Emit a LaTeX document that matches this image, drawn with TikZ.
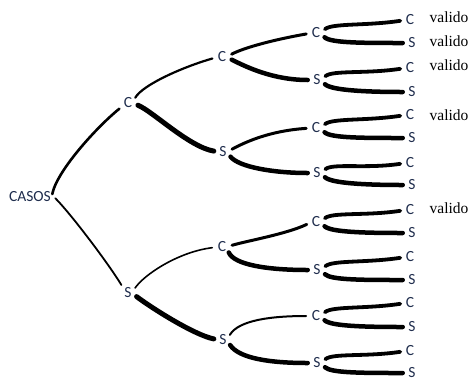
\documentclass[tikz,border=0pt]{standalone}
\usepackage{fontspec}
\newfontfamily\lblfont{Carlito}
\newfontfamily\tmsfont{Liberation Serif}
\definecolor{lblcol}{HTML}{1F2D4D}
\tikzset{
  lbl/.style={inner sep=0pt, font=\lblfont\fontsize{15.5}{17}\selectfont, text=lblcol},
  val/.style={inner sep=0pt, font=\tmsfont\fontsize{15.5}{16}\selectfont, text=black},
  br/.style={draw=black, line width=#1, line cap=round, line join=round, shorten <=6pt, shorten >=5.5pt},
}
\begin{document}
\begin{tikzpicture}[x=1pt,y=-1pt]
\useasboundingbox (0,0) rectangle (470,381);
% nodes
\node[lbl] (r) at (30,197) {CASOS};
\node[lbl] (a) at (128,103) {C};
\node[lbl] (b) at (128,293) {S};
\node[lbl] (aa) at (222,57) {C};
\node[lbl] (ab) at (223,152) {S};
\node[lbl] (ba) at (222,247) {C};
\node[lbl] (bb) at (223,340) {S};
\node[lbl] (aaa) at (316,33) {C};
\node[lbl] (aab) at (317,80) {S};
\node[lbl] (aba) at (316,128) {C};
\node[lbl] (abb) at (317,173) {S};
\node[lbl] (baa) at (316,222) {C};
\node[lbl] (bab) at (317,270) {S};
\node[lbl] (bba) at (316,316) {C};
\node[lbl] (bbb) at (317,363) {S};
% level 4
\foreach \n/\t/\x/\y in {
  l1/C/410/20, l2/S/412/43, l3/C/410/68, l4/S/412/92,
  l5/C/410/115, l6/S/412/138, l7/C/410/163, l8/S/412/185,
  l9/C/410/210, l10/S/412/233, l11/C/410/257, l12/S/412/280,
  l13/C/410/303, l14/S/412/327, l15/C/410/351, l16/S/412/373}
  {\node[lbl] (\n) at (\x,\y) {\t};}
% valido labels
\node[val] (v1) at (449,17) {valido};
\node[val] (v2) at (449,41) {valido};
\node[val] (v3) at (449,65) {valido};
\node[val] (v4) at (449,115) {valido};
\node[val] (v5) at (449,208) {valido};
% level 0 -> 1
\draw[br=2.6pt] ([yshift=-3pt]r.east) .. controls +(6,-30) and +(-25,20) .. ([yshift=3pt]a.south west);
\draw[br=1.8pt] ([yshift=3pt]r.east) .. controls +(20,20) and +(-15,-25) .. ([yshift=-2pt]b.north west);
% level 1 -> 2
\draw[br=2.2pt] (a.east) .. controls +(10,-18) and +(-35,10) .. (aa.west);
\draw[br=5pt] (a.east) .. controls +(20,8) and +(-30,-5) .. (ab.west);
\draw[br=1.6pt] (b.east) .. controls +(12,-18) and +(-40,5) .. (ba.west);
\draw[br=5pt] (b.east) .. controls +(20,15) and +(-25,-5) .. (bb.west);
% level 2 -> 3
\draw[br=3pt] (aa.east) .. controls +(15,-8) and +(-45,8) .. (aaa.west);
\draw[br=4.5pt] (aa.east) .. controls +(20,10) and +(-40,0) .. (aab.west);
\draw[br=3pt] (ab.east) .. controls +(15,-8) and +(-45,3) .. (aba.west);
\draw[br=4.5pt] (ab.east) .. controls +(12,15) and +(-40,0) .. (abb.west);
\draw[br=3pt] (ba.east) .. controls +(20,-6) and +(-25,12) .. (baa.west);
\draw[br=4.5pt] (ba.east) .. controls +(8,18) and +(-45,0) .. (bab.west);
\draw[br=2pt] (bb.east) .. controls +(12,-20) and +(-40,0) .. (bba.west);
\draw[br=4.5pt] (bb.east) .. controls +(12,18) and +(-45,0) .. (bbb.west);
% level 3 -> 4
\foreach \p/\c/\s in {aaa/l1/l2, aab/l3/l4, aba/l5/l6, abb/l7/l8,
                      baa/l9/l10, bab/l11/l12, bba/l13/l14, bbb/l15/l16}{
  \draw[br=3.8pt] (\p.east) .. controls +(12,-10) and +(-40,6) .. (\c.west);
  \draw[br=4.5pt] (\p.east) .. controls +(10,10) and +(-45,0) .. (\s.west);
}
\end{tikzpicture}
\end{document}
